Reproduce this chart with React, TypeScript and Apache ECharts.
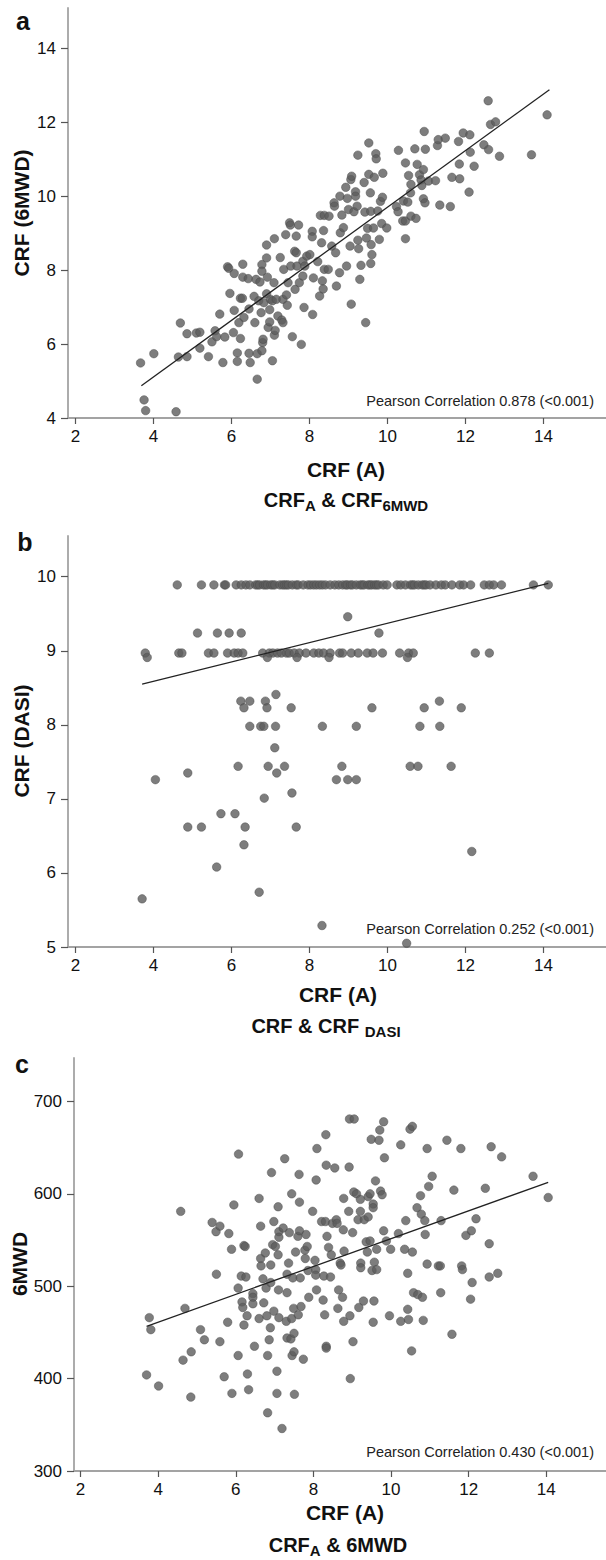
import React, { useEffect, useRef } from "react";
import * as echarts from "echarts";

// ---------- tick labels ----------
const X_TICKS = [2, 4, 6, 8, 10, 12, 14];
const Y_TICKS_A = [4, 6, 8, 10, 12, 14];
const Y_TICKS_B = [5, 6, 7, 8, 9, 10];
const Y_TICKS_C = [300, 400, 500, 600, 700];

// ---------- panel a: CRF(A) vs CRF(6MWD) ----------
const POINTS_A: number[][] = [
  [3.67, 5.49], [3.76, 4.49], [3.8, 4.2], [4.58, 4.17], [4.01, 5.74], [4.69, 6.57], [4.64, 5.65], [4.86, 5.66],
  [4.86, 6.28], [5.1, 6.3], [5.19, 6.32], [5.19, 5.89], [5.41, 5.66], [5.5, 6.06], [5.58, 6.36], [5.62, 6.2],
  [5.7, 6.81], [5.78, 5.5], [5.83, 6.19], [5.9, 8.09], [5.93, 8.05], [5.96, 7.37], [6.07, 7.91], [6.07, 6.91],
  [6.05, 6.31], [6.15, 5.76], [6.15, 5.53], [6.19, 6.58], [6.23, 7.24], [6.23, 6.15], [6.29, 8.16], [6.29, 7.81],
  [6.32, 6.72], [6.28, 7.24], [6.43, 7.77], [6.45, 6.95], [6.45, 5.75], [6.48, 5.5], [6.58, 7.29], [6.6, 6.58],
  [6.63, 7.75], [6.66, 5.05], [6.66, 5.74], [6.7, 7.17], [6.73, 7.68], [6.78, 8.15], [6.78, 7.97], [6.76, 6.85],
  [6.8, 6.04], [6.81, 6.13], [6.78, 5.82], [6.83, 7.12], [6.9, 8.68], [6.9, 8.33], [6.9, 7.36], [6.92, 7.81],
  [6.94, 6.45], [6.98, 6.93], [6.98, 6.6], [7.0, 7.21], [7.05, 5.55], [7.05, 7.17], [7.1, 8.85], [7.09, 7.66],
  [7.1, 6.24], [7.12, 6.37], [7.15, 7.21], [7.19, 6.76], [7.25, 8.34], [7.29, 6.65], [7.32, 6.58], [7.32, 7.21],
  [7.34, 8.02], [7.39, 8.96], [7.41, 7.33], [7.43, 7.05], [7.45, 7.66], [7.49, 9.28], [7.51, 9.22], [7.52, 8.11],
  [7.56, 6.2], [7.62, 8.51], [7.63, 7.48], [7.66, 8.92], [7.66, 8.47], [7.68, 8.11], [7.72, 9.22], [7.74, 7.66],
  [7.79, 5.99], [7.83, 7.84], [7.83, 8.24], [7.88, 8.11], [7.86, 6.99], [7.93, 8.38], [8.01, 8.42], [8.07, 9.05],
  [8.07, 8.9], [8.08, 6.8], [8.1, 7.79], [8.21, 8.23], [8.26, 7.3], [8.28, 9.48], [8.31, 8.74], [8.33, 7.71],
  [8.35, 7.49], [8.38, 9.48], [8.36, 9.07], [8.38, 8.02], [8.48, 8.02], [8.5, 9.46], [8.57, 8.65], [8.63, 9.82],
  [8.64, 9.73], [8.67, 8.47], [8.69, 7.57], [8.77, 7.93], [8.78, 10.0], [8.79, 9.01], [8.83, 9.49], [8.87, 9.15],
  [8.93, 10.24], [8.95, 8.11], [8.97, 9.94], [9.0, 9.64], [9.04, 8.65], [9.06, 10.45], [9.08, 10.54], [9.07, 7.08],
  [9.14, 9.58], [9.18, 10.12], [9.18, 10.0], [9.22, 9.73], [9.24, 8.81], [9.26, 8.58], [9.24, 11.11], [9.29, 7.75],
  [9.32, 8.13], [9.4, 10.37], [9.42, 9.57], [9.44, 6.58], [9.46, 8.87], [9.49, 9.13], [9.52, 11.44], [9.52, 10.59],
  [9.56, 10.09], [9.57, 9.59], [9.58, 8.69], [9.6, 8.42], [9.57, 8.18], [9.66, 10.51], [9.64, 9.14], [9.7, 11.15],
  [9.71, 11.01], [9.75, 9.6], [9.79, 8.83], [9.82, 9.86], [9.85, 9.26], [9.88, 10.62], [9.87, 9.97], [9.98, 9.14],
  [10.23, 9.72], [10.28, 11.24], [10.27, 9.58], [10.41, 9.87], [10.39, 9.33], [10.46, 10.9], [10.46, 9.33],
  [10.46, 8.85], [10.54, 10.56], [10.52, 9.84], [10.59, 10.09], [10.6, 10.32], [10.6, 9.46], [10.7, 11.28],
  [10.73, 9.4], [10.76, 10.86], [10.82, 10.58], [10.86, 10.44], [10.88, 10.29], [10.92, 10.72], [10.92, 9.93],
  [10.94, 11.75], [10.97, 11.27], [10.96, 9.82], [11.05, 10.41], [11.23, 10.42], [11.28, 11.37], [11.3, 11.53],
  [11.34, 9.76], [11.48, 11.57], [11.61, 9.72], [11.65, 10.51], [11.82, 11.48], [11.84, 10.87], [11.85, 10.47],
  [11.94, 11.71], [12.09, 10.11], [12.11, 11.66], [12.12, 11.19], [12.22, 10.81], [12.47, 11.39], [12.58, 12.58],
  [12.59, 11.26], [12.64, 11.94], [12.77, 12.01], [12.87, 11.08], [13.69, 11.12], [14.09, 12.2]
];
const FIT_A: number[][] = [[3.69, 4.87], [14.15, 12.88]];

// ---------- panel b: CRF(A) vs CRF(DASI) ----------
const POINTS_B: number[][] = [
  [4.61, 9.89], [5.23, 9.89], [5.55, 9.89], [5.82, 9.89], [5.85, 9.89], [6.12, 9.89], [6.25, 9.89], [6.37, 9.89],
  [6.47, 9.89], [6.62, 9.89], [6.67, 9.89], [6.72, 9.89], [6.82, 9.89], [6.87, 9.89], [6.92, 9.89], [7.01, 9.89],
  [7.06, 9.89], [7.11, 9.89], [7.24, 9.89], [7.31, 9.89], [7.36, 9.89], [7.41, 9.89], [7.46, 9.89], [7.56, 9.89],
  [7.66, 9.89], [7.71, 9.89], [7.84, 9.89], [7.96, 9.89], [8.03, 9.89], [8.11, 9.89], [8.18, 9.89], [8.26, 9.89],
  [8.33, 9.89], [8.41, 9.89], [8.53, 9.89], [8.65, 9.89], [8.75, 9.89], [8.85, 9.89], [8.93, 9.89], [8.97, 9.89],
  [9.05, 9.89], [9.1, 9.89], [9.2, 9.89], [9.3, 9.89], [9.35, 9.89], [9.4, 9.89], [9.5, 9.89], [9.55, 9.89],
  [9.6, 9.89], [9.67, 9.89], [9.72, 9.89], [9.77, 9.89], [9.89, 9.89], [9.99, 9.89], [10.24, 9.89], [10.34, 9.89],
  [10.46, 9.89], [10.59, 9.89], [10.64, 9.89], [10.69, 9.89], [10.79, 9.89], [10.89, 9.89], [10.94, 9.89],
  [10.99, 9.89], [11.09, 9.89], [11.24, 9.89], [11.38, 9.89], [11.48, 9.89], [11.65, 9.89], [11.85, 9.89],
  [11.95, 9.89], [12.13, 9.89], [12.48, 9.89], [12.61, 9.89], [12.72, 9.89], [12.92, 9.89], [13.74, 9.89],
  [14.12, 9.89],
  [8.98, 9.46], [5.13, 9.24], [5.64, 9.24], [5.94, 9.24], [6.25, 9.24], [9.78, 9.24],
  [3.79, 8.97], [4.65, 8.97], [4.73, 8.97], [5.41, 8.97], [5.55, 8.97], [5.9, 8.97], [6.07, 8.97], [6.17, 8.97],
  [6.29, 8.97], [6.8, 8.97], [6.97, 8.97], [7.06, 8.97], [7.18, 8.97], [7.28, 8.97], [7.41, 8.97], [7.48, 8.97],
  [7.61, 8.97], [7.74, 8.97], [7.91, 8.97], [8.11, 8.97], [8.24, 8.97], [8.36, 8.97], [8.53, 8.97], [8.77, 8.97],
  [8.85, 8.97], [9.07, 8.97], [9.25, 8.97], [9.48, 8.97], [9.63, 8.97], [9.87, 8.97], [10.31, 8.97], [10.54, 8.97],
  [10.66, 8.97], [12.25, 8.97], [12.61, 8.97],
  [3.84, 8.91], [6.92, 8.91], [7.68, 8.91], [8.5, 8.91], [10.51, 8.91],
  [7.14, 8.41], [6.24, 8.32], [6.47, 8.32], [6.32, 8.23], [6.87, 8.32], [6.91, 8.23], [7.53, 8.23], [9.6, 8.23],
  [10.94, 8.23], [11.33, 8.32], [11.89, 8.23], [6.47, 7.98], [6.75, 7.98], [6.83, 7.98], [7.13, 7.98], [8.33, 7.98],
  [9.2, 7.98], [10.83, 7.98], [11.34, 7.98], [7.11, 7.69], [6.17, 7.44], [6.94, 7.44], [7.36, 7.44], [8.83, 7.44],
  [10.58, 7.44], [10.78, 7.44], [11.63, 7.44], [4.88, 7.35], [7.16, 7.35], [4.05, 7.26], [8.69, 7.26], [8.98, 7.26],
  [9.2, 7.26], [7.55, 7.08], [6.84, 7.01], [5.73, 6.8], [6.09, 6.8], [4.88, 6.62], [5.23, 6.62], [6.35, 6.62],
  [7.66, 6.62], [6.32, 6.38], [12.16, 6.29], [5.62, 6.08], [6.71, 5.74], [3.71, 5.65], [8.32, 5.29], [10.49, 5.05]
];
const FIT_B: number[][] = [[3.71, 8.55], [14.12, 9.91]];

// ---------- panel c: CRF(A) vs 6MWD ----------
const POINTS_C: number[][] = [
  [3.7, 404], [3.77, 466], [3.81, 453], [4.01, 392], [4.58, 581], [4.64, 420], [4.69, 476], [4.84, 380], [4.85, 429],
  [5.09, 453], [5.19, 442], [5.39, 569], [5.49, 559], [5.5, 513], [5.59, 565], [5.59, 440], [5.7, 402], [5.79, 461],
  [5.82, 557], [5.89, 540], [5.9, 384], [5.95, 588], [6.07, 643], [6.06, 498], [6.06, 425], [6.14, 511], [6.16, 483],
  [6.18, 477], [6.21, 544], [6.24, 543], [6.21, 458], [6.26, 510], [6.29, 468], [6.3, 405], [6.33, 388], [6.44, 492],
  [6.44, 488], [6.44, 481], [6.48, 435], [6.6, 595], [6.6, 465], [6.64, 565], [6.64, 530], [6.65, 522], [6.7, 508],
  [6.72, 482], [6.76, 536], [6.78, 498], [6.8, 468], [6.82, 363], [6.82, 425], [6.86, 442], [6.89, 455], [6.9, 523],
  [6.9, 504], [6.92, 623], [6.95, 545], [6.98, 570], [6.98, 473], [7.02, 543], [7.06, 408], [7.06, 384], [7.09, 586],
  [7.09, 534], [7.1, 496], [7.11, 466], [7.11, 559], [7.11, 553], [7.19, 346], [7.22, 563], [7.26, 638], [7.3, 462],
  [7.32, 493], [7.32, 513], [7.32, 444], [7.36, 525], [7.38, 558], [7.42, 443], [7.44, 600], [7.44, 465], [7.45, 425],
  [7.47, 509], [7.49, 476], [7.5, 449], [7.5, 429], [7.51, 383], [7.54, 537], [7.6, 554], [7.61, 469], [7.63, 621],
  [7.64, 591], [7.64, 560], [7.66, 509], [7.68, 478], [7.74, 421], [7.78, 539], [7.79, 530], [7.81, 556], [7.84, 543],
  [7.86, 517], [7.88, 488], [7.98, 581], [8.04, 528], [8.06, 518], [8.06, 512], [8.07, 615], [8.08, 496], [8.09, 649],
  [8.21, 570], [8.25, 485], [8.27, 511], [8.29, 469], [8.31, 570], [8.32, 664], [8.33, 631], [8.33, 435], [8.33, 433],
  [8.35, 554], [8.39, 542], [8.44, 510], [8.46, 534], [8.49, 568], [8.55, 628], [8.59, 572], [8.61, 568], [8.63, 476],
  [8.65, 496], [8.69, 525], [8.71, 523], [8.75, 488], [8.77, 561], [8.78, 595], [8.78, 462], [8.79, 538], [8.91, 581],
  [8.92, 629], [8.93, 681], [8.94, 468], [8.95, 400], [9.01, 558], [9.02, 440], [9.04, 602], [9.05, 681], [9.11, 600],
  [9.15, 572], [9.17, 477], [9.21, 594], [9.21, 581], [9.22, 525], [9.22, 520], [9.29, 484], [9.31, 572], [9.36, 548],
  [9.39, 537], [9.41, 575], [9.41, 597], [9.46, 600], [9.46, 549], [9.49, 659], [9.51, 517], [9.54, 589], [9.54, 585],
  [9.54, 461], [9.56, 484], [9.57, 526], [9.6, 614], [9.63, 518], [9.63, 540], [9.69, 658], [9.71, 669], [9.73, 603],
  [9.77, 599], [9.81, 678], [9.81, 560], [9.83, 639], [9.88, 549], [9.96, 468], [9.99, 540], [10.19, 557], [10.25, 653],
  [10.25, 462], [10.35, 540], [10.38, 571], [10.43, 514], [10.43, 475], [10.45, 464], [10.49, 670], [10.55, 673],
  [10.55, 537], [10.53, 430], [10.58, 493], [10.67, 585], [10.69, 491], [10.76, 598], [10.78, 578], [10.81, 488],
  [10.83, 463], [10.87, 571], [10.88, 556], [10.93, 649], [10.93, 524], [10.97, 608], [11.06, 619], [11.22, 522],
  [11.27, 522], [11.29, 571], [11.28, 493], [11.44, 658], [11.57, 448], [11.62, 604], [11.8, 649], [11.82, 522],
  [11.84, 518], [11.93, 555], [12.05, 486], [12.07, 560], [12.09, 504], [12.19, 573], [12.43, 606], [12.53, 546],
  [12.53, 510], [12.58, 651], [12.75, 514], [12.85, 640], [13.66, 619], [14.05, 596]
];
const FIT_C: number[][] = [[3.7, 456.6], [14.05, 612.4]];

const PEARSON = [
  "Pearson Correlation 0.878 (<0.001)",
  "Pearson Correlation 0.252 (<0.001)",
  "Pearson Correlation 0.430 (<0.001)",
];
const LETTERS = ["a", "b", "c"];
const Y_TITLES = ["CRF (6MWD)", "CRF (DASI)", "6MWD"];
const X_TITLE = "CRF (A)";

const FONT = "'Liberation Sans', Arial, Helvetica, sans-serif";
const DOT = "#5c5c5c";
const AXIS = "#a3a3a3";

export default function App() {
  const ref = useRef<HTMLDivElement>(null);

  useEffect(() => {
    if (!ref.current) return;
    const chart = echarts.init(ref.current, undefined, { renderer: "svg" });

    const panels = [
      { grid: { left: 68, top: 8, width: 538, height: 410 }, xMin: 1.81, xMax: 15.6, yMin: 4, yMax: 15.09, yTicks: Y_TICKS_A, pts: POINTS_A, fit: FIT_A },
      { grid: { left: 68, top: 536, width: 538, height: 411 }, xMin: 1.81, xMax: 15.6, yMin: 5, yMax: 10.55, yTicks: Y_TICKS_B, pts: POINTS_B, fit: FIT_B },
      { grid: { left: 74, top: 1058, width: 532, height: 413 }, xMin: 1.83, xMax: 15.54, yMin: 300, yMax: 747, yTicks: Y_TICKS_C, pts: POINTS_C, fit: FIT_C },
    ];

    const textPos = [
      { letter: [23, 21], yTitle: [21, 213], xTitle: [346, 469], sub: [346, 500], pearson: [594, 401] },
      { letter: [25, 542], yTitle: [21, 741], xTitle: [338, 994], sub: [326, 1026], pearson: [594, 929] },
      { letter: [22, 1064], yTitle: [19, 1264], xTitle: [345, 1512], sub: [338, 1545], pearson: [594, 1452] },
    ];

    const subTexts = [
      "{b|CRF}{s|A}{b| & CRF}{s|6MWD}",
      "{b|CRF & CRF }{s|DASI}",
      "{b|CRF}{s|A}{b| & 6MWD}",
    ];

    const rich = {
      b: { fontSize: 20, fontWeight: "bold", fontFamily: FONT, lineHeight: 26, fill: "#111" },
      s: { fontSize: 15, fontWeight: "bold", fontFamily: FONT, lineHeight: 15, verticalAlign: "bottom", fill: "#111" },
    };

    const graphic: any[] = [];
    textPos.forEach((p, i) => {
      graphic.push({
        type: "text", x: p.letter[0], y: p.letter[1],
        style: { text: LETTERS[i], font: `bold 25px ${FONT}`, fill: "#111", align: "center", verticalAlign: "middle" },
      });
      graphic.push({
        type: "text", x: p.yTitle[0], y: p.yTitle[1], rotation: Math.PI / 2,
        style: { text: Y_TITLES[i], font: `bold 21px ${FONT}`, fill: "#111", align: "center", verticalAlign: "middle" },
      });
      graphic.push({
        type: "text", x: p.xTitle[0], y: p.xTitle[1],
        style: { text: X_TITLE, font: `bold 21px ${FONT}`, fill: "#111", align: "center", verticalAlign: "middle" },
      });
      graphic.push({
        type: "text", x: p.sub[0], y: p.sub[1],
        style: { text: subTexts[i], rich, align: "center", verticalAlign: "middle" },
      });
      graphic.push({
        type: "text", x: p.pearson[0], y: p.pearson[1],
        style: { text: PEARSON[i], font: `14.5px ${FONT}`, fill: "#222", align: "right", verticalAlign: "middle" },
      });
    });

    const option: any = {
      animation: false,
      backgroundColor: "#ffffff",
      grid: panels.map((p) => ({ ...p.grid, containLabel: false })),
      xAxis: panels.map((p, i) => ({
        type: "value", gridIndex: i, min: p.xMin, max: p.xMax,
        axisLine: { show: true, onZero: false, lineStyle: { color: AXIS, width: 1.8 } },
        axisTick: { show: true, customValues: X_TICKS, length: 6, lineStyle: { color: "#555", width: 1.2 } },
        axisLabel: { show: true, customValues: X_TICKS, margin: 10, fontSize: 17, color: "#111", fontFamily: FONT },
        splitLine: { show: false },
      })),
      yAxis: panels.map((p, i) => ({
        type: "value", gridIndex: i, min: p.yMin, max: p.yMax,
        axisLine: { show: true, onZero: false, lineStyle: { color: AXIS, width: 1.8 } },
        axisTick: { show: true, customValues: p.yTicks, length: 7, lineStyle: { color: "#555", width: 1.2 } },
        axisLabel: { show: true, customValues: p.yTicks, margin: 12, fontSize: 17, color: "#111", fontFamily: FONT },
        splitLine: { show: false },
      })),
      series: panels.flatMap((p, i) => [
        {
          type: "scatter", xAxisIndex: i, yAxisIndex: i, data: p.pts, symbolSize: 8.5,
          itemStyle: { color: DOT, borderColor: "#4a4a4a", borderWidth: 0.6 }, silent: true,
        },
        {
          type: "line", xAxisIndex: i, yAxisIndex: i, data: p.fit, showSymbol: false, symbol: "none",
          lineStyle: { color: "#222", width: 1.3 }, silent: true, z: 3,
        },
      ]),
      graphic,
    };

    chart.setOption(option);
    return () => chart.dispose();
  }, []);

  return <div ref={ref} style={{ position: "absolute", left: 0, top: 0, width: 606, height: 1560 }} />;
}
